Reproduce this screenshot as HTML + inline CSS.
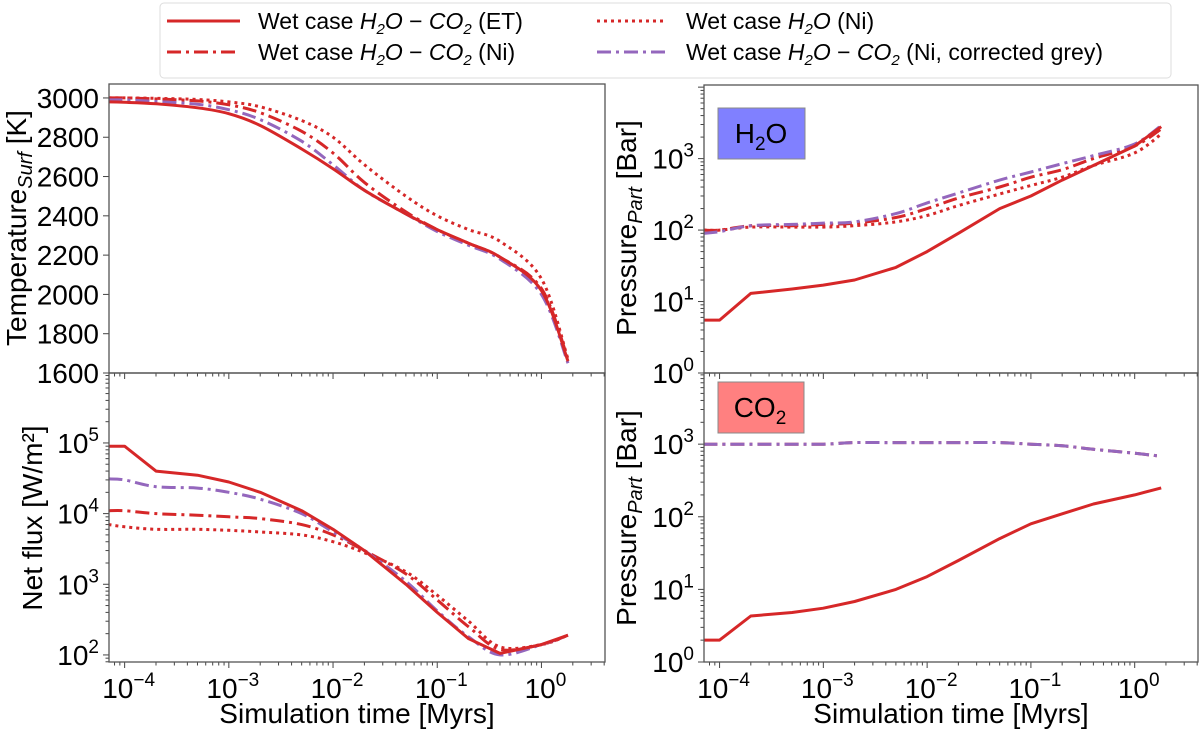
<!DOCTYPE html>
<html><head><meta charset="utf-8"><style>
html,body{margin:0;padding:0;background:#fff;width:1200px;height:730px;overflow:hidden}
svg{display:block;font-family:"Liberation Sans","DejaVu Sans",sans-serif}
</style></head><body>
<svg id="chart" width="1200" height="730" viewBox="0 0 1200 730"></svg>
<script>
const times=[7e-5,1e-4,2e-4,5e-4,1e-3,2e-3,5e-3,1e-2,2e-2,5e-2,0.1,0.2,0.4,1,1.8];
const tempET=[2980,2978,2970,2950,2920,2860,2740,2640,2530,2410,2330,2260,2190,2020,1660];
const tempNi=[3000,3000,2995,2985,2965,2925,2830,2720,2570,2420,2330,2260,2190,2030,1670];
const tempH2O=[3000,3000,2998,2992,2980,2955,2885,2800,2660,2500,2400,2330,2270,2080,1670];
const tempGrey=[2990,2990,2982,2968,2940,2890,2780,2660,2530,2410,2320,2250,2180,2000,1650];
const fluxET=[9e4,9e4,4e4,3.5e4,2.8e4,2e4,1.1e4,6e3,3e3,1e3,4e2,1.7e2,1.05e2,1.4e2,1.9e2];
const fluxNi=[1.1e4,1.1e4,1e4,9.5e3,9e3,8.5e3,7e3,5e3,3e3,1.4e3,6e2,2.5e2,1.2e2,1.4e2,1.9e2];
const fluxH2O=[7e3,6.5e3,6e3,6e3,5.8e3,5.5e3,5e3,4e3,2.8e3,1.5e3,7e2,3e2,1.3e2,1.4e2,1.9e2];
const fluxGrey=[3.1e4,3e4,2.4e4,2.3e4,2e4,1.6e4,1e4,5.5e3,3e3,1.1e3,4.2e2,1.8e2,1e2,1.4e2,1.9e2];
const pH2OET=[5.5,5.5,13,15,17,20,30,50,90,200,300,500,800,1500,2800];
const pH2ONi=[100,100,115,115,120,125,150,200,280,400,550,700,1000,1500,2600];
const pH2OH2O=[100,100,110,110,110,115,130,160,220,320,420,550,800,1200,2200];
const pH2OGrey=[90,95,115,120,125,130,170,240,330,500,650,850,1100,1600,2900];
const pCO2ET=[2,2,4.3,4.8,5.5,6.8,10,15,25,50,80,110,150,200,250];
const pCO2Ni=[1000,1000,1000,1000,1000,1050,1050,1050,1050,1050,1000,950,850,750,680];
const pCO2Grey=[1000,1000,1000,1000,1000,1050,1050,1050,1050,1050,1000,950,850,750,680];
const tempTicks=[1600,1800,2000,2200,2400,2600,2800,3000];
const xTickExp=[-4,-3,-2,-1,0];

const NS="http://www.w3.org/2000/svg";
const svg=document.getElementById('chart');
function mk(tag,attrs,parent){const e=document.createElementNS(NS,tag);for(const k in attrs)e.setAttribute(k,attrs[k]);(parent||svg).appendChild(e);return e;}
const RED="#d62728",PUR="#9467bd";
const styles={
 et:{stroke:RED,dash:""},
 ni:{stroke:RED,dash:"14,5,3,5"},
 h2o:{stroke:RED,dash:"3,4"},
 grey:{stroke:PUR,dash:"14,5,3,5"}
};
function panel(name,x0,x1,y0,y1,xmin,xmax,ymin,ymax,ylog){
 const sx=v=>x0+(Math.log10(v)-xmin)/(xmax-xmin)*(x1-x0);
 const sy=ylog?(v=>y1-(Math.log10(v)-ymin)/(ymax-ymin)*(y1-y0)):(v=>y1-(v-ymin)/(ymax-ymin)*(y1-y0));
 return {name,x0,x1,y0,y1,xmin,xmax,ymin,ymax,ylog,sx,sy};
}
const P1=panel('temperature',109,605,84,373,-4.15,0.61,1600,3071,false);
const P2=panel('net-flux',109,605,373,662,-4.15,0.61,1.9,5.99,true);
const P3=panel('h2o-pressure',704,1198,85,373,-4.15,0.61,0,4.03,true);
const P4=panel('co2-pressure',704,1198,373,662,-4.15,0.61,0,3.98,true);

function supText(g,x,y,base,exp,anchor,name){
 const t=mk('text',{x:x,y:y,'font-size':28,'text-anchor':anchor,fill:'#000'},g);
 
 
 const a=mk('tspan',{},t);a.textContent=base;
 const b=mk('tspan',{dy:-12,'font-size':19},t);b.textContent=exp;
 return t;
}
function xAxis(P,labels){
 const g=mk('g',{});
 
 
 for(let e=-5;e<=1;e++){for(let m=1;m<10;m++){const v=m*Math.pow(10,e);const lx=Math.log10(v);if(lx<P.xmin||lx>P.xmax)continue;const x=P.sx(v);mk('line',{x1:x,x2:x,y1:P.y1,y2:P.y1+(m===1?6:3.5),stroke:'#444','stroke-width':1},g);}}
 if(labels){xTickExp.forEach(e=>{supText(g,P.sx(Math.pow(10,e))+4,P.y1+36,'10',e<0?'\u2212'+(-e):'0','middle','x-tick-label');});}
}
function yLogAxis(P,exps,name){
 const g=mk('g',{});
 
 
 for(let e=Math.floor(P.ymin);e<=Math.ceil(P.ymax);e++){for(let m=1;m<10;m++){const v=m*Math.pow(10,e);const l=Math.log10(v);if(l<P.ymin-1e-6||l>P.ymax)continue;const y=P.sy(v);mk('line',{x1:P.x0,x2:P.x0-(m===1?6:3.5),y1:y,y2:y,stroke:'#444','stroke-width':1},g);}}
 exps.forEach(e=>{supText(g,P.x0-10,P.sy(Math.pow(10,e))+10,'10',String(e),'end','y-tick-label');});
}
function frame(P){
 const r=mk('rect',{x:P.x0,y:P.y0,width:P.x1-P.x0,height:P.y1-P.y0,fill:'none',stroke:'#555','stroke-width':1.3});
 
 
}
const defs=mk('defs',{});
[P1,P2,P3,P4].forEach(P=>{const c=mk('clipPath',{id:'c-'+P.name},defs);mk('rect',{x:P.x0,y:P.y0,width:P.x1-P.x0,height:P.y1-P.y0},c);});
function smoothPath(pts){
 let d='M'+pts[0][0].toFixed(1)+','+pts[0][1].toFixed(1);
 for(let i=0;i<pts.length-1;i++){
  const p0=pts[Math.max(0,i-1)],p1=pts[i],p2=pts[i+1],p3=pts[Math.min(pts.length-1,i+2)];
  const c1=[p1[0]+(p2[0]-p0[0])/6,p1[1]+(p2[1]-p0[1])/6];
  const c2=[p2[0]-(p3[0]-p1[0])/6,p2[1]-(p3[1]-p1[1])/6];
  d+=' C'+c1[0].toFixed(1)+','+c1[1].toFixed(1)+' '+c2[0].toFixed(1)+','+c2[1].toFixed(1)+' '+p2[0].toFixed(1)+','+p2[1].toFixed(1);
 }
 return d;
}
function clipSeries(P,xs,ys,st,name,smooth){
 const g=mk('g',{'clip-path':'url(#c-'+P.name+')'});
 const pts=xs.map((t,i)=>[P.sx(t),P.sy(ys[i])]);
 const d=smooth?smoothPath(pts):'M'+pts.map(p=>p[0].toFixed(1)+','+p[1].toFixed(1)).join(' L');
 const pl=mk('path',{d:d,fill:'none',stroke:st.stroke,'stroke-width':3,'stroke-dasharray':st.dash,'stroke-linejoin':'round'},g);
 
 
}
(function(){
 const g=mk('g',{});
 
 
 tempTicks.forEach(v=>{const y=P1.sy(v);mk('line',{x1:P1.x0,x2:P1.x0-6,y1:y,y2:y,stroke:'#444'},g);const t=mk('text',{x:P1.x0-10,y:y+10,'font-size':28,'text-anchor':'end'},g);t.textContent=v;});
})();
clipSeries(P1,times,tempH2O,styles.h2o,'temp-h2o-ni',true);
clipSeries(P1,times,tempNi,styles.ni,'temp-h2o-co2-ni',true);
clipSeries(P1,times,tempGrey,styles.grey,'temp-grey',true);
clipSeries(P1,times,tempET,styles.et,'temp-et',true);
xAxis(P1,false);
clipSeries(P2,times,fluxH2O,styles.h2o,'flux-h2o-ni',true);
clipSeries(P2,times,fluxNi,styles.ni,'flux-h2o-co2-ni',true);
clipSeries(P2,times,fluxGrey,styles.grey,'flux-grey',true);
clipSeries(P2,times,fluxET,styles.et,'flux-et',false);
yLogAxis(P2,[2,3,4,5],'flux-y-axis');
xAxis(P2,true);
clipSeries(P3,times,pH2OH2O,styles.h2o,'ph2o-h2o-ni',true);
clipSeries(P3,times,pH2ONi,styles.ni,'ph2o-h2o-co2-ni',true);
clipSeries(P3,times,pH2OGrey,styles.grey,'ph2o-grey',true);
clipSeries(P3,times,pH2OET,styles.et,'ph2o-et',false);
yLogAxis(P3,[0,1,2,3],'h2o-y-axis');
xAxis(P3,false);
clipSeries(P4,times,pCO2Ni,styles.ni,'pco2-h2o-co2-ni',true);
clipSeries(P4,times,pCO2Grey,styles.grey,'pco2-grey',true);
clipSeries(P4,times,pCO2ET,styles.et,'pco2-et',false);
yLogAxis(P4,[0,1,2,3],'co2-y-axis');
xAxis(P4,true);
[P1,P2,P3,P4].forEach(frame);
</script>
<svg width="1200" height="730" style="position:absolute;left:0;top:0">
 <g font-family="Liberation Sans, DejaVu Sans, sans-serif" fill="#000">
  <rect x="718" y="108" width="87" height="51" fill="#8080ff" stroke="#888"/>
  <text x="761" y="143" font-size="28" text-anchor="middle">H<tspan font-size="19" dy="7">2</tspan><tspan dy="-7">O</tspan></text>
  <rect x="718" y="382" width="86" height="51" fill="#ff8080" stroke="#888"/>
  <text x="760" y="417" font-size="28" text-anchor="middle">CO<tspan font-size="19" dy="7">2</tspan></text>
  <text transform="translate(26,228) rotate(-90)" font-size="28" text-anchor="middle">Temperature<tspan font-size="20" font-style="italic" dy="6">Surf</tspan><tspan dy="-6"> [K]</tspan></text>
  <text transform="translate(42,518) rotate(-90)" font-size="28" text-anchor="middle">Net flux [W/m²]</text>
  <text transform="translate(636,228) rotate(-90)" font-size="28" text-anchor="middle">Pressure<tspan font-size="20" font-style="italic" dy="6">Part</tspan><tspan dy="-6"> [Bar]</tspan></text>
  <text transform="translate(636,518) rotate(-90)" font-size="28" text-anchor="middle">Pressure<tspan font-size="20" font-style="italic" dy="6">Part</tspan><tspan dy="-6"> [Bar]</tspan></text>
  <text x="357" y="723" font-size="28" text-anchor="middle">Simulation time [Myrs]</text>
  <text x="951" y="723" font-size="28" text-anchor="middle">Simulation time [Myrs]</text>
  <g>
   <rect x="160" y="3" width="1011" height="75" rx="4" fill="#fff" stroke="#ddd"/>
   <line x1="167" y1="21" x2="240" y2="21" stroke="#d62728" stroke-width="3"/>
   <text x="258" y="29" font-size="23">Wet case <tspan font-style="italic">H</tspan><tspan font-size="15" dy="5" font-style="italic">2</tspan><tspan dy="-5" font-style="italic">O</tspan> − <tspan font-style="italic">CO</tspan><tspan font-size="15" dy="5" font-style="italic">2</tspan><tspan dy="-5"> (ET)</tspan></text>
   <line x1="167" y1="52" x2="240" y2="52" stroke="#d62728" stroke-width="3" stroke-dasharray="14,5,3,5"/>
   <text x="258" y="60" font-size="23">Wet case <tspan font-style="italic">H</tspan><tspan font-size="15" dy="5" font-style="italic">2</tspan><tspan dy="-5" font-style="italic">O</tspan> − <tspan font-style="italic">CO</tspan><tspan font-size="15" dy="5" font-style="italic">2</tspan><tspan dy="-5"> (Ni)</tspan></text>
   <line x1="597" y1="21" x2="666" y2="21" stroke="#d62728" stroke-width="3" stroke-dasharray="3,4"/>
   <text x="686" y="29" font-size="23">Wet case <tspan font-style="italic">H</tspan><tspan font-size="15" dy="5" font-style="italic">2</tspan><tspan dy="-5" font-style="italic">O</tspan> (Ni)</text>
   <line x1="597" y1="52" x2="666" y2="52" stroke="#9467bd" stroke-width="3" stroke-dasharray="14,5,3,5"/>
   <text x="686" y="60" font-size="23">Wet case <tspan font-style="italic">H</tspan><tspan font-size="15" dy="5" font-style="italic">2</tspan><tspan dy="-5" font-style="italic">O</tspan> − <tspan font-style="italic">CO</tspan><tspan font-size="15" dy="5" font-style="italic">2</tspan><tspan dy="-5"> (Ni, corrected grey)</tspan></text>
  </g>
 </g>
</svg>
</body></html>
